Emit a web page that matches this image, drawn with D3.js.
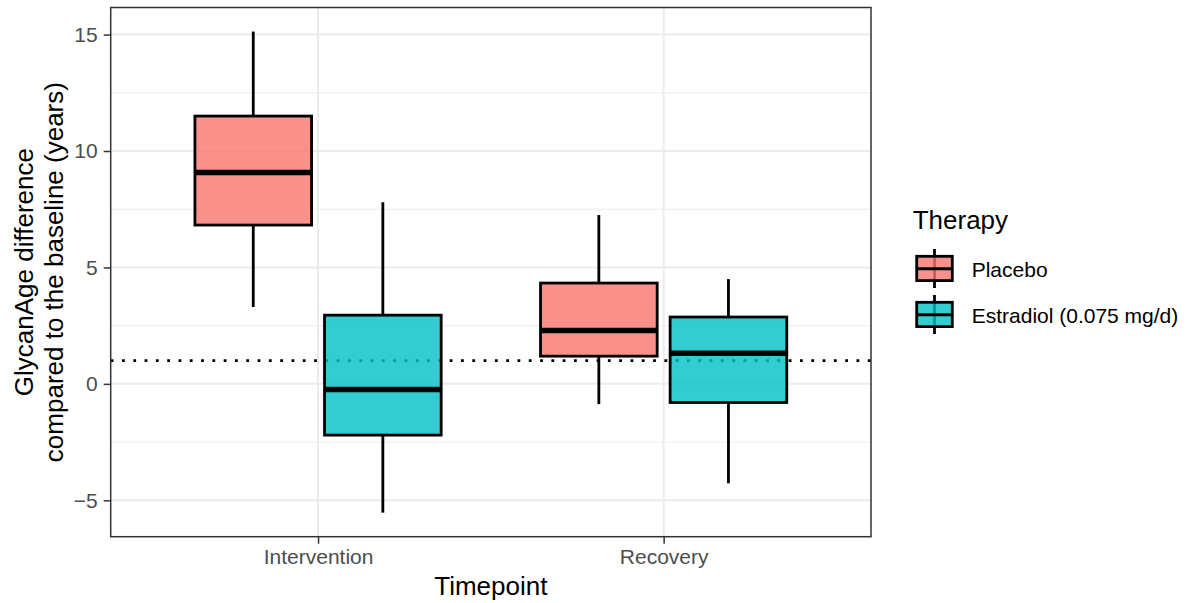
<!DOCTYPE html>
<html>
<head>
<meta charset="utf-8">
<script src="https://cdn.jsdelivr.net/npm/d3@7"></script>
<style>
  html, body { margin: 0; padding: 0; background: #fff; }
  svg { display: block; font-family: "Liberation Sans", Arial, Helvetica, sans-serif; }
</style>
</head>
<body>
<svg id="chart" width="1187" height="603"></svg>
<script>
// ---- Data ----
const timepoints = ["Intervention", "Recovery"];
const therapies = ["Placebo", "Estradiol (0.075 mg/d)"];
const therapyColors = ["#F8766D", "#00BFC4"];
// [lower whisker, Q1, median, Q3, upper whisker] per timepoint
const placeboStats = [
  [3.30, 6.82, 9.08, 11.50, 15.13],
  [-0.87, 1.19, 2.29, 4.33, 7.25]
];
const estradiolStats = [
  [-5.53, -2.20, -0.24, 2.95, 7.80],
  [-4.27, -0.80, 1.31, 2.87, 4.50]
];
const yTicks = [-5, 0, 5, 10, 15];
const yMinorTicks = [-2.5, 2.5, 7.5, 12.5];
const referenceLine = 1;
const yTitleLines = ["GlycanAge difference", "compared to the baseline (years)"];
const xTitle = "Timepoint";
const legendTitle = "Therapy";

// ---- Layout ----
const panel = { left: 110.7, right: 871, top: 7.5, bottom: 536.7 };
const svg = d3.select("#chart");
svg.append("rect").attr("width", 1187).attr("height", 603).attr("fill", "#fff");

const allVals = placeboStats.flat().concat(estradiolStats.flat());
const lo = d3.min(allVals), hi = d3.max(allVals);
const pad = (hi - lo) * 0.05;
const y = d3.scaleLinear().domain([lo - pad, hi + pad]).range([panel.bottom, panel.top]);
const x = d3.scaleLinear().domain([0.4, timepoints.length + 0.6]).range([panel.left, panel.right]);

const seriesStats = [placeboStats, estradiolStats];
const dodge = 0.75, nSeries = therapies.length;
const slot = dodge / nSeries;
const boxW = slot * 0.9;

// grid
const grid = svg.append("g");
grid.selectAll(".minor").data(yMinorTicks).join("line")
  .attr("x1", panel.left).attr("x2", panel.right)
  .attr("y1", d => y(d)).attr("y2", d => y(d))
  .attr("stroke", "#EBEBEB").attr("stroke-width", 1);
grid.selectAll(".major").data(yTicks).join("line")
  .attr("x1", panel.left).attr("x2", panel.right)
  .attr("y1", d => y(d)).attr("y2", d => y(d))
  .attr("stroke", "#EBEBEB").attr("stroke-width", 2);
grid.selectAll(".vmajor").data(timepoints).join("line")
  .attr("x1", (d, i) => x(i + 1)).attr("x2", (d, i) => x(i + 1))
  .attr("y1", panel.top).attr("y2", panel.bottom)
  .attr("stroke", "#EBEBEB").attr("stroke-width", 2);

// reference line (drawn beneath the semi-transparent boxes)
svg.append("line")
  .attr("x1", panel.left).attr("x2", panel.right)
  .attr("y1", y(referenceLine)).attr("y2", y(referenceLine))
  .attr("stroke", "#000").attr("stroke-width", 2.8)
  .attr("stroke-dasharray", "2.8 8.5");

// boxes
const boxes = [];
seriesStats.forEach((stats, s) => {
  stats.forEach((st, t) => {
    boxes.push({ t, s, st, cx: (t + 1) - dodge / 2 + slot * (s + 0.5) });
  });
});
const bg = svg.append("g");
boxes.forEach(b => {
  const g = bg.append("g");
  const [wl, q1, med, q3, wh] = b.st;
  g.append("line").attr("x1", x(b.cx)).attr("x2", x(b.cx))
    .attr("y1", y(wh)).attr("y2", y(q3)).attr("stroke", "#000").attr("stroke-width", 2.8);
  g.append("line").attr("x1", x(b.cx)).attr("x2", x(b.cx))
    .attr("y1", y(q1)).attr("y2", y(wl)).attr("stroke", "#000").attr("stroke-width", 2.8);
  g.append("rect")
    .attr("x", x(b.cx - boxW / 2)).attr("width", x(b.cx + boxW / 2) - x(b.cx - boxW / 2))
    .attr("y", y(q3)).attr("height", y(q1) - y(q3))
    .attr("fill", therapyColors[b.s]).attr("fill-opacity", 0.8)
    .attr("stroke", "#000").attr("stroke-width", 2.8);
  g.append("line").attr("x1", x(b.cx - boxW / 2)).attr("x2", x(b.cx + boxW / 2))
    .attr("y1", y(med)).attr("y2", y(med)).attr("stroke", "#000").attr("stroke-width", 5.5);
});

// panel border
svg.append("rect")
  .attr("x", panel.left).attr("y", panel.top)
  .attr("width", panel.right - panel.left).attr("height", panel.bottom - panel.top)
  .attr("fill", "none").attr("stroke", "#333333").attr("stroke-width", 1.5);

// y axis
const yAxis = svg.append("g").attr("transform", `translate(${panel.left},0)`)
  .call(d3.axisLeft(y).tickValues(yTicks).tickSize(7).tickPadding(6)
    .tickFormat(d => d < 0 ? "\u2212" + Math.abs(d) : String(d)));
yAxis.select(".domain").remove();
yAxis.selectAll(".tick line").attr("stroke", "#333333").attr("stroke-width", 1.5);
yAxis.selectAll(".tick text").attr("fill", "#4D4D4D").attr("font-size", 21)
  .attr("font-family", "Liberation Sans, Arial, Helvetica, sans-serif");

// x axis
const xAxis = svg.append("g").attr("transform", `translate(0,${panel.bottom})`)
  .call(d3.axisBottom(x).tickValues(timepoints.map((d, i) => i + 1)).tickSize(7).tickPadding(5)
    .tickFormat((d, i) => timepoints[i]));
xAxis.select(".domain").remove();
xAxis.selectAll(".tick line").attr("stroke", "#333333").attr("stroke-width", 1.5);
xAxis.selectAll(".tick text").attr("fill", "#4D4D4D").attr("font-size", 21)
  .attr("font-family", "Liberation Sans, Arial, Helvetica, sans-serif");

// axis titles
svg.append("text").attr("x", (panel.left + panel.right) / 2).attr("y", 595)
  .attr("text-anchor", "middle").attr("font-size", 26).attr("fill", "#000").text(xTitle);
const yc = (panel.top + panel.bottom) / 2;
yTitleLines.forEach((t, i) => {
  const bx = 33.3 + i * 30;
  svg.append("text").attr("transform", `translate(${bx},${yc}) rotate(-90)`)
    .attr("text-anchor", "middle").attr("font-size", 26).attr("fill", "#000").text(t);
});

// legend
const legend = svg.append("g");
legend.append("text").attr("x", 912.7).attr("y", 229).attr("font-size", 26).attr("fill", "#000").text(legendTitle);
const keyTop = 249, keyStep = 46, keyCx = 934.5, keyW = 35.6;
therapies.forEach((name, i) => {
  const top = keyTop + i * keyStep;
  const g = legend.append("g");
  g.append("line").attr("x1", keyCx).attr("x2", keyCx).attr("y1", top).attr("y2", top + 39)
    .attr("stroke", "#000").attr("stroke-width", 2.8);
  g.append("rect").attr("x", keyCx - keyW / 2).attr("y", top + 7.3).attr("width", keyW).attr("height", 24.3)
    .attr("fill", therapyColors[i]).attr("fill-opacity", 0.8).attr("stroke", "#000").attr("stroke-width", 2.8);
  g.append("line").attr("x1", keyCx - keyW / 2).attr("x2", keyCx + keyW / 2)
    .attr("y1", top + 19.8).attr("y2", top + 19.8).attr("stroke", "#000").attr("stroke-width", 3);
  g.append("text").attr("x", 971.7).attr("y", top + 27.5).attr("font-size", 21).attr("fill", "#000").text(name);
});
</script>
</body>
</html>
